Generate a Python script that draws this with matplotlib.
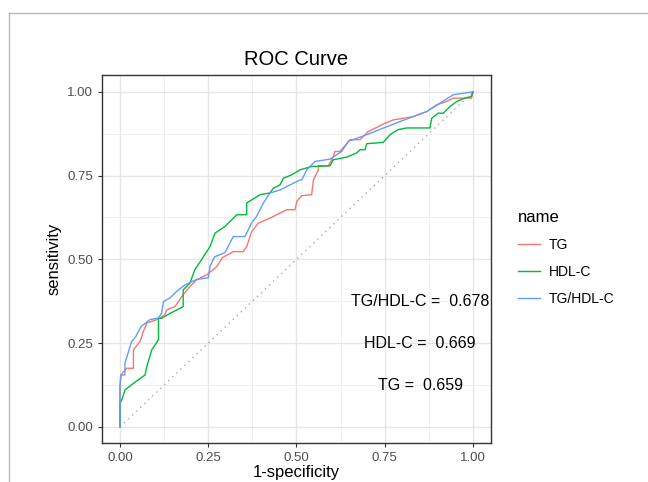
import matplotlib.pyplot as plt
from matplotlib.lines import Line2D
import numpy as np

plt.rcParams['font.family'] = ['Liberation Sans', 'DejaVu Sans']

# ROC vertices (fpr, tpr)
tg_fpr = [0, 0, 0.002, 0.019, 0.038, 0.038, 0.057, 0.066, 0.076, 0.104, 0.127, 0.132, 0.156, 0.175,
          0.198, 0.217, 0.246, 0.274, 0.290, 0.321, 0.349, 0.359, 0.373, 0.392, 0.425, 0.453, 0.472,
          0.496, 0.501, 0.515, 0.543, 0.548, 0.562, 0.562, 0.590, 0.604, 0.609, 0.623, 0.652, 0.680,
          0.703, 0.751, 0.774, 0.831, 0.869, 0.897, 0.925, 0.944, 0.996, 1.0]
tg_tpr = [0, 0.12, 0.155, 0.175, 0.175, 0.23, 0.255, 0.284, 0.31, 0.32, 0.334, 0.349, 0.359, 0.389,
          0.419, 0.439, 0.454, 0.478, 0.505, 0.523, 0.523, 0.538, 0.583, 0.608, 0.623, 0.638, 0.648,
          0.648, 0.673, 0.69, 0.693, 0.737, 0.767, 0.779, 0.779, 0.805, 0.822, 0.822, 0.857, 0.857,
          0.881, 0.906, 0.916, 0.926, 0.941, 0.961, 0.971, 0.981, 0.981, 1.0]

hdl_fpr = [0, 0, 0.005, 0.014, 0.038, 0.071, 0.076, 0.09, 0.109, 0.109, 0.118, 0.142, 0.17, 0.179,
           0.179, 0.198, 0.212, 0.231, 0.255, 0.269, 0.297, 0.331, 0.359, 0.359, 0.397, 0.425, 0.434,
           0.453, 0.463, 0.486, 0.51, 0.543, 0.595, 0.604, 0.642, 0.67, 0.68, 0.694, 0.699, 0.746,
           0.765, 0.788, 0.812, 0.878, 0.883, 0.902, 0.916, 0.935, 0.954, 0.977, 0.995, 1.0]
hdl_tpr = [0, 0.071, 0.08, 0.11, 0.13, 0.155, 0.18, 0.23, 0.26, 0.324, 0.324, 0.339, 0.354, 0.359,
           0.409, 0.429, 0.469, 0.499, 0.538, 0.578, 0.598, 0.633, 0.633, 0.668, 0.693, 0.698, 0.712,
           0.722, 0.742, 0.752, 0.767, 0.777, 0.779, 0.797, 0.805, 0.817, 0.827, 0.827, 0.845, 0.849,
           0.872, 0.887, 0.892, 0.892, 0.921, 0.936, 0.936, 0.956, 0.971, 0.981, 0.986, 1.0]

ratio_fpr = [0, 0, 0.003, 0.014, 0.014, 0.033, 0.045, 0.06, 0.085, 0.109, 0.118, 0.123, 0.142, 0.16,
             0.184, 0.217, 0.25, 0.255, 0.264, 0.269, 0.297, 0.321, 0.354, 0.373, 0.387, 0.406, 0.425,
             0.453, 0.51, 0.515, 0.529, 0.552, 0.595, 0.628, 0.647, 0.699, 0.793, 0.869, 0.944, 1.0]
ratio_tpr = [0, 0.12, 0.155, 0.155, 0.19, 0.255, 0.27, 0.3, 0.32, 0.325, 0.34, 0.374, 0.385, 0.404,
             0.424, 0.44, 0.445, 0.478, 0.5, 0.508, 0.52, 0.568, 0.568, 0.609, 0.628, 0.668, 0.698,
             0.707, 0.737, 0.737, 0.767, 0.792, 0.799, 0.822, 0.852, 0.872, 0.911, 0.941, 0.991, 1.0]

names = ['TG', 'HDL-C', 'TG/HDL-C']
colors = ['#F8766D', '#00BA38', '#619CFF']
auc_labels = ['TG/HDL-C =  0.678', 'HDL-C =  0.669', 'TG =  0.659']
auc_y = [0.375, 0.25, 0.125]

fig = plt.figure(figsize=(6.48, 4.82), dpi=100)
ax = fig.add_axes([0.1574, 0.0809, 0.6003, 0.7635])

ax.plot([0, 1], [0, 1], ls=(0, (1, 3)), color='#AAAAAA', lw=1)
curves = [(tg_fpr, tg_tpr), (hdl_fpr, hdl_tpr), (ratio_fpr, ratio_tpr)]
for (fx, fy), nm, c in zip(curves, names, colors):
    ax.plot(fx, fy, color=c, lw=1, label=nm)

for lab, yy in zip(auc_labels, auc_y):
    ax.text(0.85, yy, lab, ha='center', va='center', fontsize=11.5, color='black')

ticks = [0, 0.25, 0.5, 0.75, 1.0]
ax.set_xlim(-0.051, 1.051)
ax.set_ylim(-0.048, 1.05)
ax.set_xticks(ticks)
ax.set_yticks(ticks)
ax.set_xticklabels(['%.2f' % t for t in ticks])
ax.set_yticklabels(['%.2f' % t for t in ticks])
ax.set_xticks(np.arange(0.125, 1, 0.25), minor=True)
ax.set_yticks(np.arange(0.125, 1, 0.25), minor=True)
ax.grid(which='major', color='#E6E6E6', lw=1)
ax.grid(which='minor', color='#F0F0F0', lw=0.7)
ax.set_axisbelow(True)
ax.tick_params(which='major', length=3, color='#333333', labelcolor='#4D4D4D', labelsize=9.5)
ax.tick_params(which='minor', length=0)
for s in ax.spines.values():
    s.set_color('#333333')
    s.set_linewidth(1)

ax.set_xlabel('1-specificity', fontsize=12, labelpad=1)
ax.set_ylabel('sensitivity', fontsize=12, labelpad=4)
ax.set_title('ROC Curve', fontsize=14.5, pad=7)

leg = ax.legend(title='name', loc='upper left', bbox_to_anchor=(0.78, 0.591),
                bbox_transform=fig.transFigure, frameon=False, fontsize=10,
                title_fontsize=12, handlelength=1.6, handletextpad=0.6, labelspacing=0.95)
leg._legend_box.align = 'left'

# screenshot frame
fig.add_artist(Line2D([0.0139, 1.0], [1 - 13 / 482, 1 - 13 / 482], color='#BBBBBB', lw=1,
                      transform=fig.transFigure))
fig.add_artist(Line2D([0.0139, 0.0139], [0.0, 1 - 13 / 482], color='#BBBBBB', lw=1,
                      transform=fig.transFigure))

fig.savefig('out.png', dpi=100)
